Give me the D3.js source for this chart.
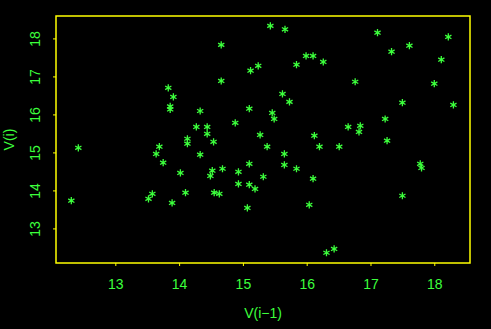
<!DOCTYPE html>
<html>
<head>
<meta charset="utf-8">
<script src="https://cdn.jsdelivr.net/npm/d3@7"></script>
<style>
  html, body { margin: 0; padding: 0; background: #000; }
  svg { display: block; }
</style>
</head>
<body>
<div id="chart"></div>
<script>
// lagged values: x = V(i-1), y = V(i)
const xValues = [12.31, 12.42, 13.52, 13.58, 13.64, 13.69, 13.75, 13.83, 13.86, 13.86,
  13.91, 13.89, 14.02, 14.10, 14.13, 14.13, 14.27, 14.33, 14.33, 14.44,
  14.44, 14.49, 14.52, 14.54, 14.55, 14.63, 14.66, 14.66, 14.68, 14.88,
  14.93, 14.93, 15.07, 15.10, 15.10, 15.10, 15.12, 15.19, 15.24, 15.27,
  15.32, 15.38, 15.43, 15.46, 15.49, 15.62, 15.65, 15.65, 15.66, 15.73,
  15.84, 15.84, 15.99, 16.04, 16.10, 16.10, 16.12, 16.20, 16.26, 16.31,
  16.43, 16.51, 16.65, 16.76, 16.82, 16.84, 17.11, 17.23, 17.26, 17.33,
  17.50, 17.50, 17.61, 17.78, 17.80, 18.00, 18.11, 18.22, 18.30];
const yValues = [13.73, 15.12, 13.78, 13.91, 14.96, 15.15, 14.73, 16.70, 16.21, 16.13,
  16.46, 13.67, 14.46, 13.94, 15.36, 15.23, 15.67, 16.09, 14.94, 15.67,
  15.49, 14.38, 14.52, 15.28, 13.94, 13.91, 17.83, 16.88, 14.57, 15.78,
  14.49, 14.17, 13.54, 16.15, 14.70, 14.15, 17.15, 14.04, 17.28, 15.46,
  14.36, 15.15, 18.33, 16.04, 15.88, 16.54, 14.96, 14.67, 18.24, 16.33,
  17.31, 14.57, 17.54, 13.62, 17.54, 14.31, 15.44, 15.15, 17.38, 12.36,
  12.46, 15.15, 15.67, 16.86, 15.54, 15.70, 18.15, 15.88, 15.31, 17.65,
  16.31, 13.86, 17.81, 14.70, 14.59, 16.81, 17.44, 18.04, 16.25];
const xTicks = [13, 14, 15, 16, 17, 18];
const yTicks = [13, 14, 15, 16, 17, 18];

const width = 491;
const height = 329;
const margin = { top: 16, right: 21, bottom: 66, left: 56 };
const green = "#3cff3c";
const yellow = "#ffff00";
const font = "'Liberation Sans', Arial, sans-serif";

const svg = d3.select("#chart")
  .append("svg")
  .attr("width", width)
  .attr("height", height)
  .style("background", "#000");

const x = d3.scaleLinear()
  .domain([12.07, 18.56])
  .range([margin.left, width - margin.right]);

const y = d3.scaleLinear()
  .domain([12.09, 18.59])
  .range([height - margin.bottom, margin.top]);

// asterisk symbol: three crossing strokes
const r = 3.6;
const star = [90, 30, -30].map(a => {
  const t = a * Math.PI / 180;
  const dx = r * Math.cos(t), dy = r * Math.sin(t);
  return `M${-dx},${-dy}L${dx},${dy}`;
}).join("");

svg.append("g")
  .attr("stroke", green)
  .attr("stroke-width", 1.3)
  .attr("fill", "none")
  .selectAll("path")
  .data(d3.range(xValues.length))
  .join("path")
    .attr("transform", i => `translate(${x(xValues[i])},${y(yValues[i])})`)
    .attr("d", star);

function xAxis(g) {
  g.attr("transform", `translate(0,${height - margin.bottom})`)
    .call(d3.axisBottom(x).tickValues(xTicks).tickSize(3).tickPadding(13).tickFormat(d3.format("d")))
    .call(g => g.select(".domain").remove())
    .call(g => g.selectAll("line").attr("stroke", yellow))
    .call(g => g.selectAll("text")
      .attr("fill", green)
      .attr("font-family", font)
      .attr("font-size", "14px"));
}

function yAxis(g) {
  g.attr("transform", `translate(${margin.left},0)`)
    .call(d3.axisLeft(y).tickValues(yTicks).tickSize(3).tickFormat(d3.format("d")))
    .call(g => g.select(".domain").remove())
    .call(g => g.selectAll("line").attr("stroke", yellow))
    .call(g => g.selectAll("text")
      .attr("fill", green)
      .attr("font-family", font)
      .attr("font-size", "14px")
      .attr("text-anchor", "middle")
      .attr("transform", "rotate(-90)")
      .attr("x", 0)
      .attr("y", -16)
      .attr("dy", null));
}

svg.append("g").call(xAxis);
svg.append("g").call(yAxis);

svg.append("rect")
  .attr("x", margin.left)
  .attr("y", margin.top)
  .attr("width", width - margin.left - margin.right)
  .attr("height", height - margin.top - margin.bottom)
  .attr("fill", "none")
  .attr("stroke", yellow)
  .attr("stroke-width", 1.5);

svg.append("text")
  .attr("fill", green)
  .attr("font-family", font)
  .attr("font-size", "14px")
  .attr("text-anchor", "middle")
  .attr("x", (margin.left + width - margin.right) / 2)
  .attr("y", 318)
  .text("V(i\u22121)");

svg.append("text")
  .attr("fill", green)
  .attr("font-family", font)
  .attr("font-size", "14px")
  .attr("text-anchor", "middle")
  .attr("transform", `translate(14,${(margin.top + height - margin.bottom) / 2}) rotate(-90)`)
  .text("V(i)");
</script>
</body>
</html>
